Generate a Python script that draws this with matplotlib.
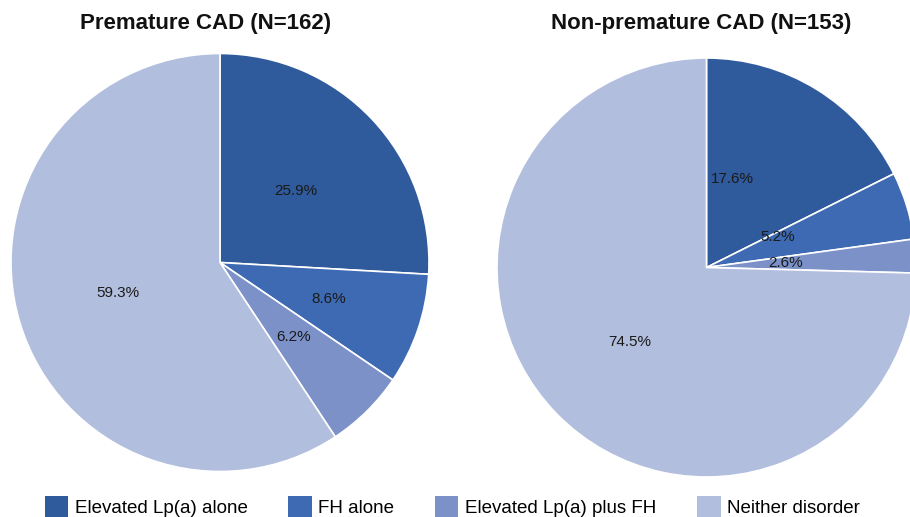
import numpy as np
import matplotlib
matplotlib.use("Agg")
import matplotlib.pyplot as plt
from matplotlib.patches import Patch

plt.rcParams['font.family'] = ['Liberation Sans', 'DejaVu Sans']

# ---- data ----
categories = ["Elevated Lp(a) alone", "FH alone", "Elevated Lp(a) plus FH", "Neither disorder"]
premature_pct = [25.9, 8.6, 6.2, 59.3]
nonpremature_pct = [17.6, 5.2, 2.6, 74.5]
titles = ["Premature CAD (N=162)", "Non-premature CAD (N=153)"]

# ---- style ----
colors = ["#2F5A9B", "#3E6AB4", "#7B91C8", "#B2BEDD"]
W, H = 910, 517

fig = plt.figure(figsize=(W / 100, H / 100), dpi=100)
ax = fig.add_axes([0, 0, 1, 1])

# pie placement in pixel units (y measured from the bottom)
pies = [
    dict(values=premature_pct, center=(220, H - 262.5), radius=209,
         label_dist=[0.50, 0.55, 0.50, 0.51], label_angle=[None, None, None, None],
         title_x=206),
    dict(values=nonpremature_pct, center=(706.5, H - 267.5), radius=209.5,
         label_dist=[0.44, 0.37, 0.38, 0.51], label_angle=[16.5, 67, None, None],
         title_x=701),
]

for p, title in zip(pies, titles):
    vals = p["values"]
    wedges, _ = ax.pie(vals, colors=colors, startangle=90, counterclock=False,
                       center=p["center"], radius=p["radius"],
                       wedgeprops=dict(edgecolor="white", linewidth=1.2))
    cx, cy = p["center"]
    r = p["radius"]
    cum = np.cumsum([0] + list(vals))
    total = cum[-1]
    for i, v in enumerate(vals):
        mid = (cum[i] + v / 2) / total * 360.0
        ang = p["label_angle"][i] if p["label_angle"][i] is not None else mid
        d = p["label_dist"][i] * r
        x = cx + d * np.sin(np.radians(ang))
        y = cy + d * np.cos(np.radians(ang))
        ax.text(x, y, f"{v:.1f}%", ha="center", va="center", fontsize=11, color="#1a1a1a")
    ax.text(p["title_x"], H - 23, title, ha="center", va="center",
            fontsize=16, fontweight="bold", color="#111111")

ax.set_xlim(0, W)
ax.set_ylim(0, H)
ax.set_aspect("equal")
ax.axis("off")

handles = [Patch(facecolor=c, edgecolor="none") for c in colors]
fig.legend(handles, categories, loc="center", bbox_to_anchor=(452.5 / W, 1 - 507 / H),
           ncol=4, frameon=False, fontsize=13.5, handlelength=1.23, handleheight=1.4,
           handletextpad=0.37, columnspacing=2.18, borderaxespad=0, borderpad=0)

fig.savefig("out.png", dpi=100)
